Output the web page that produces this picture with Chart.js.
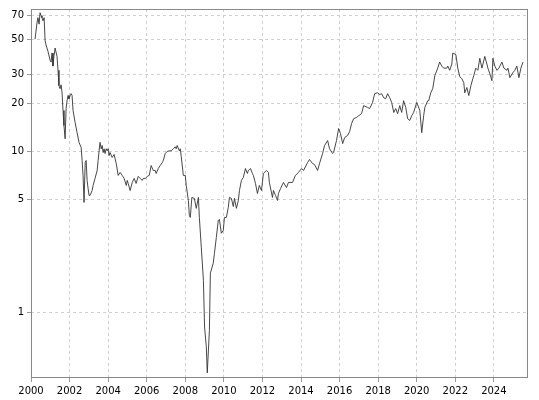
<!DOCTYPE html>
<html><head><meta charset="utf-8">
<script src="https://cdn.jsdelivr.net/npm/chart.js@4"></script>
<style>html,body{margin:0;padding:0;background:#fff}#w{width:539px;height:400px}</style>
</head><body><div id="w"><canvas id="c"></canvas></div>
<script>
const years = [2000.21,2000.31,2000.36,2000.42,2000.47,2000.52,2000.57,2000.62,2000.68,2000.73,2000.78,2000.88,2000.99,2001.04,2001.09,2001.14,2001.19,2001.25,2001.35,2001.40,2001.45,2001.51,2001.56,2001.61,2001.66,2001.71,2001.77,2001.82,2001.87,2001.92,2001.97,2002.03,2002.08,2002.13,2002.18,2002.29,2002.39,2002.49,2002.60,2002.65,2002.70,2002.75,2002.81,2002.86,2002.91,2002.96,2003.01,2003.06,2003.17,2003.22,2003.32,2003.43,2003.48,2003.53,2003.58,2003.64,2003.69,2003.74,2003.79,2003.84,2003.90,2003.95,2004.00,2004.05,2004.10,2004.21,2004.31,2004.42,2004.52,2004.62,2004.73,2004.83,2004.94,2004.99,2005.04,2005.14,2005.25,2005.35,2005.45,2005.56,2005.66,2005.77,2005.82,2005.92,2006.03,2006.13,2006.23,2006.34,2006.44,2006.49,2006.60,2006.70,2006.81,2006.86,2006.96,2007.06,2007.17,2007.27,2007.38,2007.48,2007.53,2007.58,2007.69,2007.74,2007.79,2007.90,2008.00,2008.05,2008.16,2008.21,2008.26,2008.34,2008.47,2008.57,2008.68,2008.73,2008.83,2008.94,2009.00,2009.09,2009.14,2009.25,2009.30,2009.45,2009.51,2009.61,2009.71,2009.77,2009.87,2009.97,2010.03,2010.13,2010.23,2010.29,2010.39,2010.49,2010.55,2010.65,2010.75,2010.81,2010.91,2011.01,2011.12,2011.22,2011.27,2011.38,2011.48,2011.53,2011.64,2011.74,2011.84,2011.95,2012.05,2012.21,2012.31,2012.36,2012.52,2012.57,2012.68,2012.78,2012.83,2012.94,2013.09,2013.25,2013.35,2013.56,2013.71,2013.87,2014.03,2014.13,2014.34,2014.44,2014.60,2014.70,2014.86,2014.96,2015.12,2015.22,2015.38,2015.48,2015.64,2015.69,2015.84,2015.95,2016.05,2016.16,2016.26,2016.42,2016.52,2016.62,2016.73,2016.88,2016.99,2017.14,2017.25,2017.45,2017.56,2017.71,2017.82,2017.97,2018.08,2018.18,2018.29,2018.39,2018.49,2018.60,2018.70,2018.81,2018.91,2019.01,2019.12,2019.22,2019.32,2019.43,2019.53,2019.64,2019.74,2019.84,2020.00,2020.05,2020.16,2020.26,2020.36,2020.42,2020.57,2020.62,2020.73,2020.83,2020.94,2021.09,2021.19,2021.30,2021.40,2021.56,2021.61,2021.71,2021.82,2021.87,2022.03,2022.13,2022.23,2022.34,2022.44,2022.49,2022.60,2022.70,2022.81,2022.91,2022.96,2023.06,2023.17,2023.27,2023.38,2023.53,2023.64,2023.69,2023.79,2023.90,2023.95,2024.05,2024.16,2024.26,2024.42,2024.52,2024.68,2024.73,2024.83,2024.99,2025.09,2025.19,2025.30,2025.40,2025.51];
const values = [50,63,68,62,73,70,68,65,68,49,46,42,37,36,41,34,39,44,39,32,25.7,24.6,26,23.2,18,14.5,12.0,18.5,20.7,22.3,21.3,22.3,22.9,22.3,18,15.1,13.1,11.4,10.6,8.8,7.1,4.82,8.54,8.79,6.6,5.9,5.33,5.33,5.72,6.15,6.8,7.62,8.79,10.1,11.4,10.4,10.9,9.86,10.4,9.72,10.4,10.1,10.4,9.44,9.86,9.18,9.58,8.42,7.1,7.41,7.1,6.8,6.15,6.61,6.33,5.72,6.42,6.8,6.33,7.0,6.8,6.61,6.8,6.8,7.0,7.1,8.18,7.62,7.62,7.3,7.84,8.18,8.54,8.79,9.72,10,10.1,10.1,10.4,10.7,10.4,10.9,10.1,10.4,9.31,7.1,7.1,6.15,4.96,4.0,3.89,5.18,5.11,4.43,5.18,3.89,2.54,1.58,0.81,0.61,0.42,0.77,1.75,2.02,2.32,2.92,3.73,3.78,3.10,3.23,3.89,3.89,4.49,5.18,5.11,4.55,5.11,4.43,4.96,5.72,6.61,6.9,7.84,7.3,7.62,7.84,7.3,7.1,6.33,5.48,6.15,5.72,7.3,7.62,7.41,6.42,5.18,5.72,5.33,4.96,5.48,5.89,6.42,5.97,6.42,6.42,7.1,7.41,7.84,7.62,8.54,8.92,8.42,8.3,7.62,8.42,9.72,10.9,11.7,10.4,9.72,9.86,11.7,13.9,12.9,11.2,12.2,12.6,13.3,14.9,16,16.3,16.7,17.2,19.3,18.8,18.5,20.2,22.9,23.2,22.6,22.9,21.6,21.3,22.9,21.6,20.2,17.5,18.5,17.2,19.3,17.5,20.7,18.8,16,15.6,16.7,17.5,20.2,19.5,18,13.1,16.7,18.8,20.7,20.7,23.2,24.6,29.7,33,36,34,33,33,34,32,35,41,40,33,29.2,28.4,26.8,23.2,25,22.3,25.7,28.4,29.7,33,32,38,33,39,35,33,30.5,27.6,38,34,32,33,36,33,32,33,28.8,31,32,34,28.8,33,36];
const yTicks = [1,5,10,20,30,50,70];
const xTicks = [2000,2002,2004,2006,2008,2010,2012,2014,2016,2018,2020,2022,2024];

const pts = years.map((x,i)=>({x:x,y:values[i]}));
const grid = {color:'#cfcfcf', drawTicks:true, tickLength:4, tickColor:'#999'};
const border = {display:false, dash:[3,3]};
new Chart(document.getElementById('c'),{
  type:'line',
  data:{datasets:[{data:pts,borderColor:'#333',borderWidth:0.9,pointRadius:0,tension:0}]},
  options:{
    responsive:true,maintainAspectRatio:false,animation:false,
    layout:{padding:{top:8,right:11,left:0,bottom:0}},
    plugins:{legend:{display:false},tooltip:{enabled:false}},
    scales:{
      x:{type:'linear',min:2000,max:2025.77,
        afterBuildTicks:a=>{a.ticks=xTicks.map(v=>({value:v}));},
        afterFit:a=>{a.height=22;},
        ticks:{callback:v=>String(v),color:'#000',font:{family:'DejaVu Sans',size:10},maxRotation:0,padding:3},
        grid:grid,border:border},
      y:{type:'logarithmic',min:0.39,max:77,
        afterBuildTicks:a=>{a.ticks=yTicks.map(v=>({value:v}));},
        afterFit:a=>{a.width=31;},
        ticks:{callback:v=>String(v),color:'#000',font:{family:'DejaVu Sans',size:10},padding:3},
        grid:grid,border:border}
    }
  },
  plugins:[{id:'frame',afterDraw(c){const a=c.chartArea,x=c.ctx;x.save();x.setLineDash([]);x.strokeStyle='#888';x.lineWidth=1;x.strokeRect(a.left+0.5,a.top+0.5,a.right-a.left-1,a.bottom-a.top-1);x.restore();}}]
});
</script></body></html>
